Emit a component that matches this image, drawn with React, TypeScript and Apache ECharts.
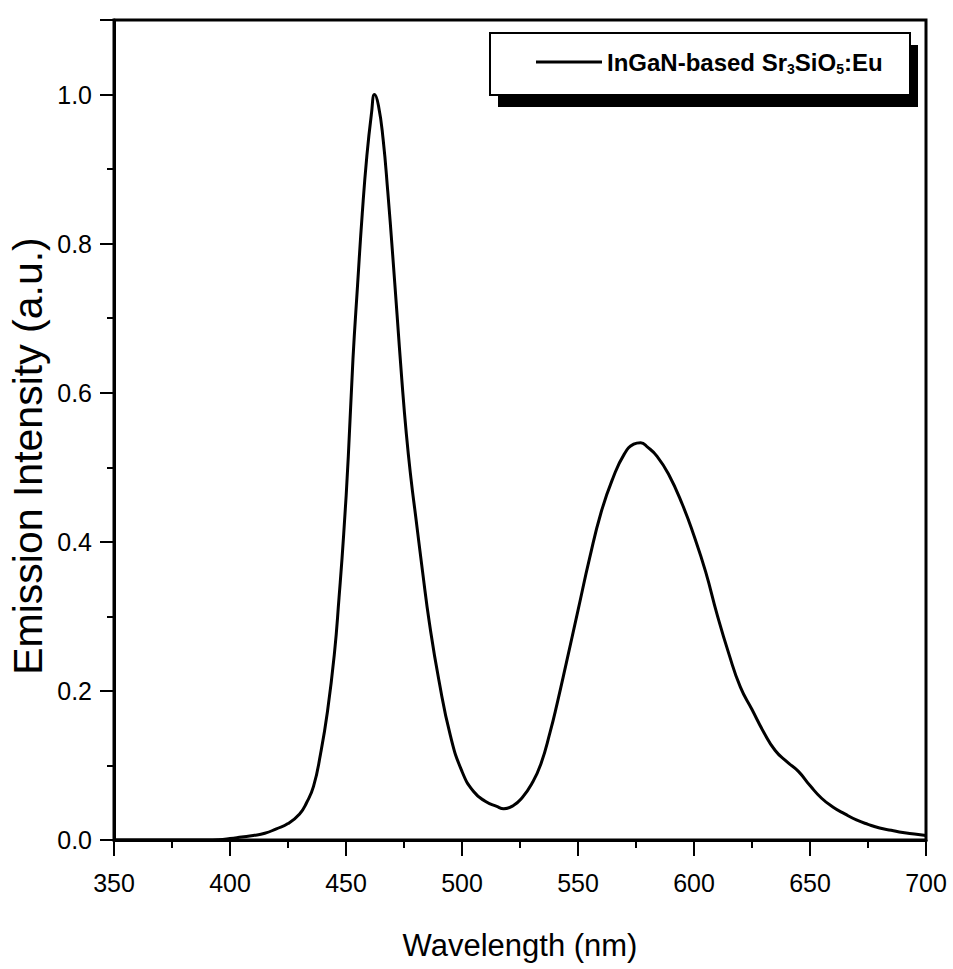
import React, { useEffect, useRef } from "react";
import * as echarts from "echarts";

const wavelengths = [
  350, 360, 370, 380, 390, 395, 400, 405, 410, 415, 420, 425, 430, 433, 436, 439,
  442, 445, 447, 449, 451, 453, 455, 457, 459, 461, 462.3, 464, 466, 468, 470, 472,
  474, 476, 478, 480, 483, 486, 490, 495, 500, 505, 510, 515, 518, 522, 526, 530,
  534, 538, 541, 545, 550, 555, 560, 565, 570, 574, 577, 580, 584, 589, 595, 600,
  605, 610, 615, 620, 625, 630, 635, 640, 645, 650, 655, 660, 665, 670, 675, 680,
  685, 690, 695, 700,
];
const intensity = [
  0, 0, 0, 0, 0, 0.0005, 0.002, 0.004, 0.006, 0.009, 0.015, 0.022, 0.035, 0.05, 0.072, 0.115,
  0.172, 0.25, 0.325, 0.41, 0.515, 0.645, 0.745, 0.84, 0.918, 0.975, 1.0, 0.985, 0.94, 0.87, 0.79, 0.705,
  0.62, 0.545, 0.485, 0.435, 0.36, 0.29, 0.215, 0.14, 0.092, 0.065, 0.052, 0.045, 0.042, 0.046, 0.057, 0.075,
  0.102, 0.145, 0.183, 0.238, 0.308, 0.378, 0.44, 0.485, 0.518, 0.531, 0.533, 0.527, 0.515, 0.491, 0.45, 0.408,
  0.36, 0.302, 0.25, 0.205, 0.175, 0.145, 0.12, 0.105, 0.092, 0.073, 0.056, 0.044, 0.035, 0.027, 0.021, 0.016,
  0.013, 0.01, 0.008, 0.006,
];

const seriesName = "InGaN-based Sr3SiO5:Eu";
const xTitle = "Wavelength (nm)";
const yTitle = "Emission Intensity (a.u.)";

const FONT = '"Liberation Sans", Arial, sans-serif';

export default function App() {
  const ref = useRef<HTMLDivElement>(null);
  useEffect(() => {
    document.body.style.margin = "0";
    const chart = echarts.init(ref.current!, null, { renderer: "svg" });
    const data = wavelengths.map((w, i) => [w, intensity[i]]);
    chart.setOption({
      animation: false,
      backgroundColor: "#fff",
      grid: {
        left: 114,
        top: 20,
        right: 27,
        bottom: 129,
        show: true,
        borderColor: "#000",
        borderWidth: 3,
        backgroundColor: "transparent",
      },
      xAxis: {
        type: "value",
        min: 350,
        max: 700,
        interval: 50,
        name: xTitle,
        nameLocation: "middle",
        nameGap: 90,
        nameTextStyle: { fontFamily: FONT, fontSize: 31, color: "#000" },
        axisLine: { show: true, onZero: false, lineStyle: { color: "#000", width: 3 } },
        axisTick: { show: true, inside: false, length: 16, lineStyle: { color: "#000", width: 2 } },
        minorTick: { show: true, splitNumber: 2, length: 8, lineStyle: { color: "#000", width: 2 } },
        axisLabel: { fontFamily: FONT, fontSize: 25, color: "#000", margin: 30 },
        splitLine: { show: false },
      },
      yAxis: {
        type: "value",
        min: 0,
        max: 1.1,
        interval: 0.2,
        axisLine: { show: true, onZero: false, lineStyle: { color: "#000", width: 3 } },
        axisTick: { show: true, inside: false, length: 14, lineStyle: { color: "#000", width: 2 } },
        minorTick: { show: true, splitNumber: 2, length: 7, lineStyle: { color: "#000", width: 2 } },
        axisLabel: {
          fontFamily: FONT,
          fontSize: 25,
          color: "#000",
          margin: 22,
          showMaxLabel: false,
          formatter: (v: number) => (Math.abs(v - 1.1) < 1e-6 ? "" : v.toFixed(1)),
        },
        splitLine: { show: false },
      },
      legend: {
        show: true,
        left: 531,
        top: 45,
        z: 20,
        itemWidth: 66,
        itemHeight: 14,
        itemGap: 10,
        icon: "path://M0,5.5 L66,5.5 L66,8.5 L0,8.5 Z",
        data: [seriesName],
        formatter: () => "{a|InGaN-based Sr}{s|3}{a|SiO}{s|5}{a|:Eu}",
        textStyle: {
          color: "#000",
          rich: {
            a: { fontFamily: FONT, fontWeight: "bold", fontSize: 24, color: "#000" },
            s: { fontFamily: FONT, fontWeight: "bold", fontSize: 14, color: "#000", verticalAlign: "bottom", padding: [14, 0, 0, 0] },
          },
        },
      },
      graphic: [
        { type: "rect", z: 10, shape: { x: 498, y: 45, width: 420, height: 62 }, style: { fill: "#000" } },
        { type: "rect", z: 11, shape: { x: 490, y: 33, width: 420, height: 62 }, style: { fill: "#fff", stroke: "#000", lineWidth: 2 } },
        {
          type: "text",
          z: 5,
          x: 28,
          y: 456,
          rotation: Math.PI / 2,
          style: {
            text: yTitle,
            fontFamily: FONT,
            fontSize: 41,
            fill: "#000",
            align: "center",
            verticalAlign: "middle",
          },
        },
      ],
      series: [
        {
          name: seriesName,
          type: "line",
          data,
          symbol: "none",
          smooth: 0.5,
          lineStyle: { color: "#000", width: 3 },
          itemStyle: { color: "#000" },
          z: 3,
        },
      ],
    });
    return () => chart.dispose();
  }, []);
  return <div ref={ref} style={{ width: 953, height: 969 }} />;
}
